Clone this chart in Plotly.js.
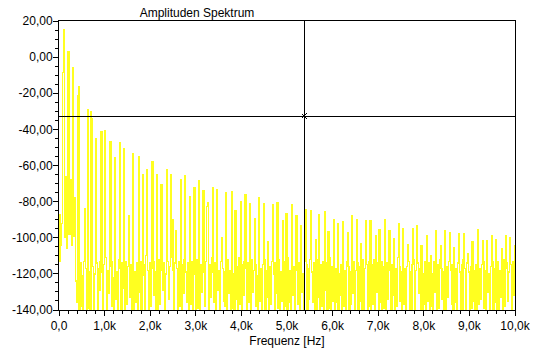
<!DOCTYPE html>
<html><head><meta charset="utf-8">
<script src="https://cdn.plot.ly/plotly-3.0.1.min.js"></script>
<style>
html,body{margin:0;padding:0;background:#fff;}
#chart{width:539px;height:358px;}
#chart svg path{shape-rendering:crispEdges !important;}
</style></head><body><div id="chart"></div>
<script>
const binHz = 20;
const noiseDb = [
-113,-87,-104,-92,-97,-94,-100,-85,-106,-90,-101,-98,-108,-93,-104,-96,-99,-110,-124,-136,-112,
-118,-141,-114,-138,-121,-146,-113,-132,-117,-143,-115,-139,-119,-148,-112,-135,-116,-142,-120,-137,
-114,-145,-117,-129,-113,-140,-119,-147,-115,-136,-111,-143,-118,-131,-116,-149,-113,-138,-122,-141,
-115,-134,-119,-146,-112,-139,-117,-142,-114,-128,-120,-145,-113,-137,-116,-150,-118,-133,-115,-141,
-112,-144,-119,-136,-114,-147,-117,-130,-113,-143,-121,-139,-115,-146,-110,-135,-118,-142,-114,-138,
-117,-149,-113,-132,-119,-141,-115,-145,-112,-137,-118,-143,-116,-129,-114,-148,-120,-140,-113,-134,
-116,-142,-111,-139,-118,-146,-114,-133,-117,-144,-113,-138,-120,-147,-115,-131,-112,-141,-119,-136,
-114,-145,-118,-137,-113,-150,-116,-134,-120,-142,-112,-139,-117,-146,-115,-130,-119,-143,-114,-138,
-113,-140,-117,-148,-115,-133,-111,-144,-119,-136,-114,-147,-116,-129,-118,-141,-113,-145,-117,-135,
-119,-138,-114,-146,-112,-131,-118,-143,-115,-139,-120,-149,-113,-134,-116,-142,-111,-137,-118,-145,
-115,-132,-113,-147,-117,-140,-114,-136,-119,-144,-112,-130,-118,-148,-115,-138,-121,-142,-113,-135,
-117,-146,-115,-139,-112,-143,-118,-133,-114,-150,-116,-137,-113,-141,-120,-145,-114,-131,-117,-139,
-112,-144,-119,-135,-115,-147,-113,-138,-117,-142,-111,-136,-118,-149,-114,-132,-116,-140,-113,-146,
-118,-137,-114,-143,-116,-130,-120,-145,-113,-139,-115,-148,-117,-134,-112,-141,-119,-136,-114,-144,
-116,-140,-112,-133,-118,-147,-115,-138,-113,-142,-119,-129,-114,-146,-117,-139,-111,-143,-116,-135,
-113,-148,-117,-136,-114,-141,-120,-132,-115,-145,-112,-138,-118,-150,-113,-134,-116,-142,-119,-137,
-115,-131,-113,-146,-118,-139,-114,-143,-116,-135,-120,-147,-112,-140,-117,-133,-115,-144,-113,-138,
-118,-145,-115,-137,-112,-149,-117,-130,-114,-142,-119,-136,-113,-146,-116,-139,-120,-143,-114,-134,
-114,-139,-118,-144,-115,-132,-113,-147,-117,-138,-111,-141,-116,-135,-119,-148,-114,-137,-117,-143,
-116,-136,-113,-150,-119,-140,-115,-133,-112,-145,-118,-139,-114,-131,-117,-146,-113,-142,-120,-137,
-113,-143,-117,-135,-114,-148,-116,-138,-120,-141,-113,-130,-118,-145,-115,-139,-112,-147,-117,-134,
-119,-140,-114,-146,-116,-133,-113,-142,-118,-137,-115,-149,-112,-136,-117,-144,-114,-131,-119,-141,
-115,-147,-112,-138,-117,-143,-114,-132,-119,-146,-116,-139,-113,-135,-118,-148,-115,-140,-112,-137,
-117,-134,-115,-145,-113,-139,-118,-142,-114,-130,-120,-147,-116,-137,-113,-143,-117,-136,-115,-146,
-113,-141,-118,-133,-116,-148,-112,-138,-117,-144,-114,-135,-119,-140,-115,-147,-113,-132,-116,-120
];
const harmonicHz = [83,105,132,193,230,303,340,400,422,560,611,690,710,808,912,1000,1116,1226,1314,1424,1520,1621,1731,1834,1929,2039,2135,2245,2355,2449,2470,2555,2663,2757,2851,2955,3065,3159,3247,3269,3365,3467,3565,3664,3774,3862,3972,4082,4170,4280,4389,4477,4580,4675,4785,4895,4982,5092,5202,5290,5400,5510,5610,5707,5817,5905,6015,6103,6213,6323,6410,6520,6620,6718,6828,6938,7025,7135,7245,7333,7443,7540,7645,7750,7838,7948,8058,8146,8256,8359,8454,8563,8667,8761,8871,8968,9068,9178,9275,9376,9486,9589,9690,9793,9881,9990];
const harmonicDb = [-8.6,15,-66,3,-68,-6,-78,-21.5,-16.5,-84,-28.9,-30.4,-33.9,-45.3,-41.3,-40.9,-47,-55.5,-47.4,-50.5,-88,-53.3,-55.1,-65.3,-62.1,-57.9,-65.3,-70.8,-62.1,-65.3,-90,-96,-68,-65.8,-77.3,-72.3,-68.4,-74,-82.8,-80.6,-72.3,-73.6,-100,-75.1,-74.5,-85,-80,-76.3,-81.3,-89.3,-77.8,-81.3,-102,-81.9,-80.6,-90.7,-86.5,-81.9,-88,-93.5,-84.7,-85.2,-101,-87.4,-85.6,-96.7,-90.2,-92,-91.1,-97.3,-88,-90.2,-103,-90.7,-90.7,-99,-95.7,-90.2,-96.3,-100.7,-92.2,-94.8,-104,-94.8,-93.5,-104.6,-99,-110,-96.3,-104.6,-96.3,-97,-105.3,-97.5,-97.5,-109,-102.2,-95.7,-101.8,-101.8,-99,-101.3,-106,-99,-99.8,-104];
const cursorHz = 5378;
const cursorDb = -32.6;
const xTickVals = [0,1000,2000,3000,4000,5000,6000,7000,8000,9000,10000];
const xTickText = ["0,0","1,0k","2,0k","3,0k","4,0k","5,0k","6,0k","7,0k","8,0k","9,0k","10,0k"];
const yTickVals = [20,0,-20,-40,-60,-80,-100,-120,-140];
const yTickText = ["20,00","0,00","-20,00","-40,00","-60,00","-80,00","-100,00","-120,00","-140,00"];

const freq = noiseDb.map((_, i) => i * binHz);
const amp = noiseDb.slice();
harmonicHz.forEach((f, k) => {
  const i = Math.round(f / binHz);
  if (i >= 0 && i < amp.length) amp[i] = Math.max(amp[i], harmonicDb[k]);
});

const font = {family: "Liberation Sans, Arial, sans-serif", size: 12, color: "#000"};
const data = [
  {type: "scatter", mode: "lines", x: freq, y: amp, line: {color: "#ffff20", width: 1.3, shape: "hv", simplify: false}, hoverinfo: "skip", showlegend: false},
  {type: "scatter", mode: "markers", x: [cursorHz], y: [cursorDb], marker: {symbol: "x-thin-open", size: 5, line: {color: "#000", width: 1}, color: "#000"}, hoverinfo: "skip", showlegend: false}
];
const layout = {
  width: 539, height: 358,
  margin: {l: 59, r: 24, t: 21, b: 48, pad: 0},
  paper_bgcolor: "#fff", plot_bgcolor: "#fff",
  font: font,
  showlegend: false,
  title: {text: "Amplituden Spektrum", font: font, x: 197/539, xanchor: "center", xref: "container", y: 1 - 13/358, yanchor: "middle", yref: "container"},
  xaxis: {
    range: [0, 10000], showgrid: false, zeroline: false,
    showline: true, linecolor: "#000", linewidth: 1, mirror: true,
    tickmode: "array", tickvals: xTickVals, ticktext: xTickText,
    ticks: "outside", ticklen: 5, tickwidth: 1, tickcolor: "#000",
    minor: {ticks: "outside", ticklen: 3, tickwidth: 1, tickcolor: "#000", tickmode: "linear", tick0: 0, dtick: 200, showgrid: false},
    tickfont: font,
    title: {text: "Frequenz [Hz]", font: font, standoff: 4}
  },
  yaxis: {
    range: [-140, 20], showgrid: false, zeroline: false,
    showline: true, linecolor: "#000", linewidth: 1, mirror: true,
    tickmode: "array", tickvals: yTickVals, ticktext: yTickText,
    ticks: "outside", ticklen: 5, tickwidth: 1, tickcolor: "#000",
    ticklabelstandoff: -2,
    minor: {ticks: "outside", ticklen: 3, tickwidth: 1, tickcolor: "#000", tickmode: "linear", tick0: 0, dtick: 5, showgrid: false},
    tickfont: font
  },
  shapes: [
    {type: "line", xref: "x", yref: "paper", x0: cursorHz, x1: cursorHz, y0: 0, y1: 1, line: {color: "#000", width: 1}, layer: "above"},
    {type: "line", xref: "paper", yref: "y", x0: 0, x1: 1, y0: cursorDb, y1: cursorDb, line: {color: "#000", width: 1}, layer: "above"}
  ]
};
Plotly.newPlot("chart", data, layout, {displayModeBar: false, staticPlot: true});
</script></body></html>
